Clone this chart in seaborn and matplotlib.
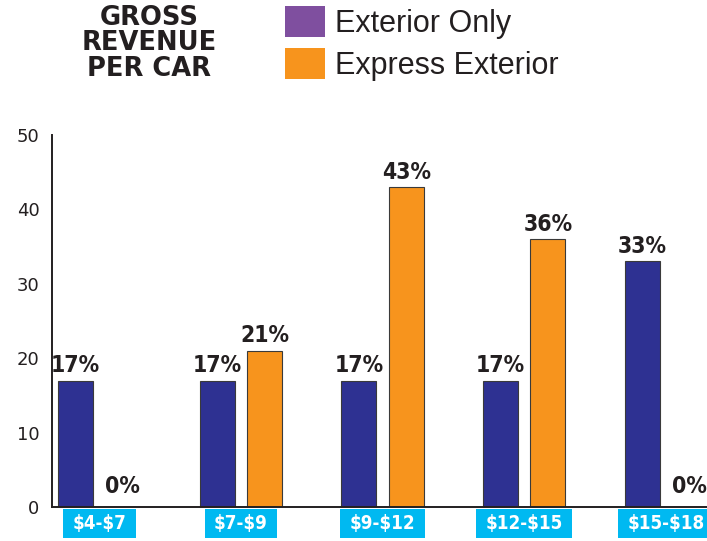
import matplotlib
matplotlib.use("Agg")
import matplotlib.pyplot as plt
import seaborn as sns
import pandas as pd
from matplotlib.patches import Patch
from matplotlib.ticker import FixedLocator

# ---- data ----
categories = ["$4-$7", "$7-$9", "$9-$12", "$12-$15", "$15-$18"]
exterior_only = [17, 17, 17, 17, 33]
express_exterior = [0, 21, 43, 36, 0]
series_names = ["Exterior Only", "Express Exterior"]
y_ticks = [0, 10, 20, 30, 40, 50]
title_lines = ["GROSS", "REVENUE", "PER CAR"]

bar_colors = {"Exterior Only": "#2e3192", "Express Exterior": "#f7941d"}
legend_colors = ["#7f4f9f", "#f7941d"]
dark = "#231f20"
cyan = "#00b9f1"

df = pd.DataFrame({
    "range": categories * 2,
    "series": [series_names[0]] * len(categories) + [series_names[1]] * len(categories),
    "value": exterior_only + express_exterior,
})

sns.set_style("white")
plt.rcParams["text.parse_math"] = False
plt.rcParams["font.family"] = ["DejaVu Sans"]
narrow_fp = dict(family="DejaVu Sans", stretch="condensed", weight="bold")

fig = plt.figure(figsize=(7.07, 5.41), dpi=100)
ax = fig.add_axes([52 / 707, 34 / 541, 655 / 707, 372 / 541])

sns.barplot(data=df, x="range", y="value", hue="series", order=categories,
            hue_order=series_names, palette=bar_colors, width=0.667, gap=0.26,
            dodge=True, saturation=1, edgecolor="#3a3a3a", linewidth=0.8,
            legend=False, ax=ax)

ax.set_xlim(-1 / 3, 4.29)
ax.set_ylim(0, 50)
ax.set_xlabel("")
ax.set_ylabel("")

for side in ["top", "right"]:
    ax.spines[side].set_visible(False)
for side in ["left", "bottom"]:
    ax.spines[side].set_color(dark)
    ax.spines[side].set_linewidth(1.4)

# value labels
for container, vals in zip(ax.containers, [exterior_only, express_exterior]):
    for bar, v in zip(container, vals):
        ax.annotate(f"{v}%", (bar.get_x() + bar.get_width() / 2, bar.get_height()),
                    xytext=(0, 10 if v == 0 else 6),
                    textcoords="offset points",
                    ha="center", va="baseline", fontsize=16.5, color=dark,
                    **narrow_fp)

# y axis
ax.set_yticks(y_ticks)
ax.set_yticklabels([str(t) for t in y_ticks])
ax.tick_params(axis="y", direction="in", length=5, width=1.3, color=dark,
               pad=9, labelsize=13, labelcolor=dark)

# x axis
ax.set_xticks(range(len(categories)))
ax.set_xticklabels(categories)
ax.xaxis.set_minor_locator(FixedLocator([k / 3 for k in range(-1, 14) if k % 3 != 0]))
ax.tick_params(axis="x", which="both", direction="in", length=5, width=1.3,
               color=dark, pad=5)
for lab in ax.get_xticklabels():
    lab.set_color("white")
    lab.set_fontsize(13.5)
    lab.set_family("DejaVu Sans")
    lab.set_stretch("condensed")
    lab.set_fontweight("bold")
    lab.set_bbox(dict(boxstyle="square,pad=0.5", fc=cyan, ec="none",
                      mutation_aspect=0.55))

ax.yaxis.get_major_ticks()[-1].tick1line.set_markersize(12)

# title
for line, yb in zip(title_lines, [25, 50, 76]):
    fig.text(149 / 707, 1 - yb / 541, line, ha="center", va="baseline",
             fontsize=18.5, fontweight="heavy", color=dark)

# legend
handles = [Patch(facecolor=c, edgecolor="none") for c in legend_colors]
leg = fig.legend(handles=handles, labels=series_names, loc="upper left",
                 bbox_to_anchor=(285 / 707, 1 - 6 / 541), frameon=False,
                 prop={"family": ["Liberation Sans", "DejaVu Sans"], "size": 22},
                 handlelength=1.3, handleheight=1.2, labelspacing=0.3,
                 handletextpad=0.35, borderpad=0, borderaxespad=0)
for t in leg.get_texts():
    t.set_color(dark)

fig.savefig("out.png", dpi=100)
